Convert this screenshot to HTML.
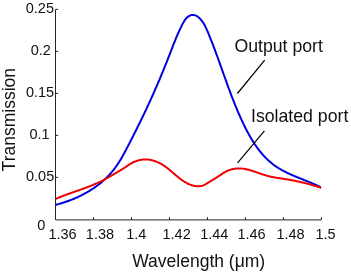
<!DOCTYPE html>
<html><head><meta charset="utf-8"><style>
html,body{margin:0;padding:0;background:#fff;width:351px;height:273px;overflow:hidden}
svg{display:block;will-change:transform}
text{font-family:"Liberation Sans",sans-serif;fill:#111}
.tk{font-size:14.5px}
.lb{font-size:17.7px}
.al{font-size:17.5px}
</style></head><body>
<svg width="351" height="273" viewBox="0 0 351 273">
<g stroke="#242424" stroke-width="1" fill="none" shape-rendering="auto" opacity="1">
<polyline points="321.40,217.20000000000002 321.40,219.9 55.5,219.9 55.5,9.4 58.2,9.4"/>
<line x1="93.49" y1="219.9" x2="93.49" y2="217.20000000000002"/><line x1="131.47" y1="219.9" x2="131.47" y2="217.20000000000002"/><line x1="169.46" y1="219.9" x2="169.46" y2="217.20000000000002"/><line x1="207.44" y1="219.9" x2="207.44" y2="217.20000000000002"/><line x1="245.43" y1="219.9" x2="245.43" y2="217.20000000000002"/><line x1="283.41" y1="219.9" x2="283.41" y2="217.20000000000002"/><line x1="55.5" y1="177.40" x2="58.2" y2="177.40"/><line x1="55.5" y1="135.40" x2="58.2" y2="135.40"/><line x1="55.5" y1="93.40" x2="58.2" y2="93.40"/><line x1="55.5" y1="51.40" x2="58.2" y2="51.40"/>
</g>
<g opacity="1"><path d="M55.50,204.89 L56.24,204.70 L56.99,204.51 L57.74,204.31 L58.48,204.10 L59.23,203.90 L59.97,203.68 L60.72,203.46 L61.46,203.24 L62.21,203.01 L62.95,202.78 L63.69,202.54 L64.44,202.30 L65.18,202.05 L65.92,201.80 L66.66,201.55 L67.40,201.29 L68.14,201.02 L68.88,200.75 L69.62,200.48 L70.35,200.20 L71.09,199.91 L71.82,199.62 L72.55,199.33 L73.28,199.03 L74.01,198.73 L74.74,198.42 L75.46,198.11 L76.19,197.79 L76.91,197.47 L77.63,197.14 L78.35,196.81 L79.06,196.47 L79.78,196.13 L80.49,195.78 L81.20,195.43 L81.91,195.07 L82.61,194.71 L83.31,194.35 L84.01,193.98 L84.71,193.60 L85.41,193.22 L86.10,192.83 L86.79,192.44 L87.47,192.05 L88.15,191.65 L88.83,191.24 L89.51,190.83 L90.18,190.42 L90.85,190.00 L91.52,189.58 L92.18,189.15 L92.84,188.71 L93.50,188.27 L94.15,187.83 L94.80,187.38 L95.45,186.93 L96.09,186.47 L96.72,186.00 L97.36,185.54 L97.99,185.06 L98.61,184.58 L99.23,184.10 L99.85,183.61 L100.46,183.12 L101.07,182.62 L101.67,182.12 L102.27,181.61 L102.86,181.10 L103.45,180.58 L104.04,180.06 L104.62,179.53 L105.19,178.99 L105.76,178.46 L106.32,177.91 L106.88,177.36 L107.43,176.81 L107.98,176.25 L108.53,175.69 L109.06,175.12 L109.59,174.55 L110.12,173.97 L110.64,173.39 L111.16,172.80 L111.66,172.20 L112.17,171.61 L112.66,171.00 L113.15,170.39 L113.64,169.78 L114.12,169.16 L114.59,168.54 L115.06,167.91 L115.52,167.28 L115.98,166.64 L116.43,166.00 L116.88,165.36 L117.32,164.71 L117.76,164.06 L118.19,163.40 L118.62,162.74 L119.04,162.08 L119.46,161.41 L119.88,160.74 L120.29,160.07 L120.70,159.40 L121.10,158.72 L121.50,158.04 L121.90,157.36 L122.30,156.67 L122.69,155.98 L123.08,155.29 L123.46,154.60 L123.85,153.91 L124.23,153.22 L124.60,152.52 L124.98,151.82 L125.35,151.12 L125.73,150.42 L126.10,149.72 L126.46,149.02 L126.83,148.32 L127.20,147.61 L127.56,146.91 L127.92,146.21 L128.28,145.50 L128.65,144.80 L129.01,144.09 L129.37,143.39 L129.72,142.69 L130.08,141.98 L130.44,141.28 L130.80,140.58 L131.16,139.87 L131.51,139.17 L131.87,138.47 L132.23,137.77 L132.58,137.07 L132.94,136.37 L133.29,135.67 L133.65,134.97 L134.00,134.26 L134.36,133.56 L134.71,132.86 L135.06,132.16 L135.42,131.46 L135.77,130.76 L136.12,130.06 L136.47,129.36 L136.82,128.66 L137.17,127.96 L137.52,127.26 L137.87,126.56 L138.22,125.85 L138.57,125.15 L138.92,124.45 L139.26,123.75 L139.61,123.05 L139.95,122.34 L140.30,121.64 L140.65,120.94 L140.99,120.23 L141.33,119.53 L141.68,118.82 L142.02,118.12 L142.36,117.41 L142.70,116.70 L143.04,116.00 L143.39,115.29 L143.73,114.58 L144.06,113.87 L144.40,113.16 L144.74,112.45 L145.08,111.74 L145.42,111.03 L145.75,110.32 L146.09,109.61 L146.42,108.89 L146.76,108.18 L147.09,107.46 L147.42,106.75 L147.76,106.03 L148.09,105.32 L148.42,104.60 L148.75,103.88 L149.08,103.17 L149.41,102.45 L149.74,101.73 L150.07,101.01 L150.39,100.29 L150.72,99.57 L151.05,98.85 L151.37,98.13 L151.70,97.41 L152.02,96.69 L152.35,95.97 L152.67,95.25 L152.99,94.52 L153.31,93.80 L153.63,93.08 L153.95,92.36 L154.27,91.63 L154.59,90.91 L154.91,90.18 L155.23,89.46 L155.54,88.73 L155.86,88.01 L156.17,87.28 L156.49,86.56 L156.80,85.83 L157.12,85.11 L157.43,84.38 L157.74,83.65 L158.05,82.93 L158.36,82.20 L158.67,81.47 L158.98,80.75 L159.29,80.02 L159.60,79.29 L159.90,78.56 L160.21,77.84 L160.51,77.11 L160.82,76.38 L161.12,75.65 L161.43,74.92 L161.73,74.20 L162.03,73.47 L162.33,72.74 L162.63,72.01 L162.93,71.28 L163.23,70.56 L163.53,69.83 L163.82,69.10 L164.12,68.37 L164.41,67.64 L164.71,66.92 L165.00,66.19 L165.30,65.46 L165.59,64.73 L165.88,64.01 L166.17,63.28 L166.46,62.55 L166.75,61.82 L167.04,61.10 L167.33,60.37 L167.61,59.64 L167.90,58.92 L168.18,58.19 L168.47,57.47 L168.75,56.74 L169.04,56.01 L169.32,55.29 L169.60,54.56 L169.88,53.84 L170.16,53.11 L170.44,52.39 L170.72,51.66 L171.00,50.94 L171.27,50.22 L171.55,49.49 L171.83,48.77 L172.11,48.04 L172.39,47.32 L172.67,46.60 L172.95,45.87 L173.24,45.15 L173.52,44.42 L173.81,43.70 L174.09,42.97 L174.38,42.24 L174.67,41.52 L174.97,40.79 L175.26,40.07 L175.56,39.34 L175.86,38.61 L176.16,37.88 L176.46,37.15 L176.77,36.42 L177.08,35.69 L177.40,34.96 L177.72,34.23 L178.04,33.50 L178.36,32.76 L178.69,32.03 L179.03,31.29 L179.37,30.56 L179.71,29.82 L180.05,29.08 L180.41,28.34 L180.76,27.60 L181.12,26.86 L181.49,26.12 L181.86,25.37 L182.24,24.63 L182.63,23.89 L183.02,23.15 L183.42,22.42 L183.84,21.71 L184.27,21.01 L184.71,20.33 L185.17,19.68 L185.65,19.05 L186.15,18.45 L186.67,17.89 L187.21,17.36 L187.78,16.87 L188.37,16.43 L189.00,16.04 L189.65,15.70 L190.32,15.42 L191.00,15.19 L191.70,15.04 L192.40,14.95 L193.10,14.94 L193.80,15.01 L194.49,15.14 L195.17,15.35 L195.84,15.63 L196.51,15.96 L197.16,16.34 L197.79,16.78 L198.42,17.26 L199.03,17.77 L199.62,18.33 L200.19,18.91 L200.74,19.52 L201.28,20.14 L201.79,20.78 L202.28,21.43 L202.75,22.09 L203.20,22.76 L203.62,23.44 L204.04,24.12 L204.43,24.81 L204.81,25.51 L205.18,26.21 L205.53,26.91 L205.88,27.63 L206.21,28.34 L206.54,29.06 L206.85,29.78 L207.17,30.50 L207.48,31.23 L207.79,31.96 L208.09,32.68 L208.39,33.41 L208.70,34.14 L209.00,34.87 L209.30,35.60 L209.60,36.33 L209.89,37.07 L210.19,37.80 L210.48,38.53 L210.77,39.27 L211.07,40.00 L211.36,40.74 L211.65,41.47 L211.93,42.21 L212.22,42.95 L212.51,43.68 L212.79,44.42 L213.08,45.16 L213.36,45.90 L213.64,46.64 L213.92,47.38 L214.20,48.12 L214.48,48.86 L214.76,49.60 L215.03,50.34 L215.31,51.08 L215.59,51.82 L215.86,52.56 L216.13,53.30 L216.41,54.05 L216.68,54.79 L216.95,55.53 L217.22,56.27 L217.49,57.01 L217.76,57.75 L218.03,58.50 L218.30,59.24 L218.57,59.98 L218.83,60.72 L219.10,61.46 L219.37,62.20 L219.63,62.95 L219.90,63.69 L220.16,64.43 L220.43,65.17 L220.69,65.91 L220.96,66.65 L221.22,67.39 L221.48,68.13 L221.75,68.87 L222.01,69.61 L222.27,70.35 L222.53,71.09 L222.80,71.83 L223.06,72.57 L223.32,73.30 L223.58,74.04 L223.85,74.78 L224.11,75.52 L224.37,76.26 L224.64,76.99 L224.90,77.73 L225.16,78.47 L225.43,79.20 L225.69,79.94 L225.96,80.68 L226.22,81.41 L226.49,82.15 L226.75,82.89 L227.02,83.62 L227.28,84.36 L227.55,85.09 L227.82,85.83 L228.09,86.56 L228.36,87.29 L228.62,88.03 L228.90,88.76 L229.17,89.49 L229.44,90.23 L229.71,90.96 L229.98,91.69 L230.26,92.43 L230.53,93.16 L230.81,93.89 L231.09,94.62 L231.36,95.35 L231.64,96.08 L231.92,96.81 L232.20,97.54 L232.48,98.27 L232.77,99.00 L233.05,99.73 L233.34,100.46 L233.63,101.19 L233.91,101.92 L234.20,102.65 L234.49,103.38 L234.79,104.10 L235.08,104.83 L235.37,105.56 L235.67,106.29 L235.97,107.01 L236.27,107.74 L236.57,108.46 L236.87,109.19 L237.18,109.92 L237.48,110.64 L237.79,111.36 L238.10,112.09 L238.41,112.81 L238.73,113.54 L239.04,114.26 L239.36,114.98 L239.68,115.71 L240.00,116.43 L240.32,117.15 L240.65,117.87 L240.97,118.59 L241.30,119.31 L241.63,120.03 L241.97,120.75 L242.30,121.47 L242.64,122.19 L242.98,122.91 L243.32,123.63 L243.67,124.35 L244.01,125.07 L244.36,125.78 L244.71,126.50 L245.07,127.21 L245.43,127.93 L245.79,128.64 L246.15,129.35 L246.51,130.06 L246.88,130.77 L247.25,131.47 L247.63,132.18 L248.01,132.88 L248.39,133.58 L248.77,134.28 L249.16,134.97 L249.55,135.67 L249.94,136.36 L250.34,137.05 L250.74,137.74 L251.14,138.42 L251.55,139.10 L251.96,139.78 L252.37,140.46 L252.79,141.13 L253.22,141.80 L253.64,142.47 L254.07,143.13 L254.51,143.79 L254.94,144.45 L255.39,145.10 L255.83,145.75 L256.28,146.40 L256.74,147.04 L257.20,147.68 L257.66,148.31 L258.13,148.94 L258.60,149.57 L259.07,150.19 L259.56,150.81 L260.04,151.42 L260.53,152.03 L261.03,152.63 L261.53,153.23 L262.03,153.82 L262.54,154.41 L263.06,154.99 L263.58,155.57 L264.10,156.14 L264.63,156.70 L265.17,157.26 L265.71,157.82 L266.25,158.37 L266.80,158.91 L267.36,159.45 L267.92,159.98 L268.49,160.51 L269.06,161.03 L269.64,161.54 L270.23,162.05 L270.82,162.55 L271.41,163.04 L272.02,163.53 L272.62,164.01 L273.24,164.48 L273.86,164.95 L274.48,165.40 L275.12,165.86 L275.75,166.30 L276.40,166.74 L277.05,167.17 L277.71,167.59 L278.37,168.01 L279.03,168.42 L279.71,168.82 L280.38,169.22 L281.06,169.61 L281.75,170.00 L282.44,170.38 L283.14,170.75 L283.84,171.12 L284.54,171.49 L285.24,171.85 L285.95,172.20 L286.67,172.55 L287.38,172.90 L288.10,173.24 L288.83,173.58 L289.55,173.92 L290.28,174.25 L291.01,174.58 L291.74,174.90 L292.47,175.22 L293.21,175.54 L293.95,175.86 L294.68,176.17 L295.42,176.48 L296.16,176.79 L296.91,177.09 L297.65,177.40 L298.39,177.70 L299.13,178.00 L299.88,178.30 L300.62,178.60 L301.36,178.90 L302.10,179.19 L302.85,179.49 L303.59,179.79 L304.33,180.08 L305.06,180.38 L305.80,180.67 L306.54,180.97 L307.27,181.26 L308.00,181.56 L308.73,181.86 L309.46,182.15 L310.19,182.45 L310.91,182.75 L311.63,183.05 L312.35,183.36 L313.06,183.66 L313.77,183.97 L314.48,184.28 L315.19,184.59 L315.89,184.91 L316.58,185.22 L317.27,185.54 L317.96,185.86 L318.64,186.19 L319.32,186.52 L320.00,186.85 L320.66,187.19" stroke="#0000e0" stroke-width="2" fill="none" stroke-linejoin="round"/>
<path d="M55.42,199.03 L55.95,198.80 L56.48,198.57 L57.02,198.34 L57.55,198.12 L58.08,197.89 L58.62,197.67 L59.16,197.45 L59.69,197.24 L60.23,197.02 L60.77,196.80 L61.31,196.59 L61.85,196.38 L62.39,196.17 L62.93,195.96 L63.47,195.75 L64.01,195.55 L64.56,195.34 L65.10,195.14 L65.65,194.93 L66.19,194.73 L66.73,194.53 L67.28,194.33 L67.83,194.13 L68.37,193.93 L68.92,193.74 L69.47,193.54 L70.01,193.34 L70.56,193.15 L71.11,192.95 L71.66,192.76 L72.20,192.57 L72.75,192.37 L73.30,192.18 L73.85,191.99 L74.40,191.79 L74.95,191.60 L75.49,191.41 L76.04,191.21 L76.59,191.02 L77.14,190.83 L77.69,190.64 L78.24,190.44 L78.79,190.25 L79.33,190.06 L79.88,189.86 L80.43,189.67 L80.98,189.47 L81.52,189.28 L82.07,189.08 L82.62,188.88 L83.16,188.69 L83.71,188.49 L84.26,188.29 L84.80,188.09 L85.35,187.89 L85.89,187.69 L86.43,187.48 L86.98,187.28 L87.52,187.07 L88.06,186.87 L88.60,186.66 L89.15,186.45 L89.69,186.24 L90.23,186.03 L90.76,185.81 L91.30,185.60 L91.84,185.38 L92.38,185.16 L92.91,184.94 L93.45,184.72 L93.98,184.50 L94.51,184.27 L95.05,184.04 L95.58,183.81 L96.11,183.58 L96.64,183.35 L97.17,183.11 L97.69,182.87 L98.22,182.63 L98.75,182.39 L99.27,182.14 L99.79,181.89 L100.31,181.64 L100.84,181.39 L101.35,181.13 L101.87,180.87 L102.39,180.61 L102.91,180.35 L103.42,180.08 L103.93,179.81 L104.45,179.54 L104.96,179.27 L105.47,178.99 L105.98,178.71 L106.49,178.43 L106.99,178.15 L107.50,177.87 L108.01,177.59 L108.51,177.30 L109.02,177.01 L109.52,176.72 L110.02,176.43 L110.53,176.14 L111.03,175.85 L111.53,175.56 L112.03,175.26 L112.53,174.97 L113.03,174.68 L113.53,174.38 L114.03,174.08 L114.53,173.79 L115.03,173.49 L115.52,173.19 L116.02,172.90 L116.52,172.60 L117.02,172.30 L117.52,172.01 L118.01,171.71 L118.51,171.42 L119.01,171.12 L119.51,170.83 L120.00,170.53 L120.50,170.24 L121.00,169.95 L121.50,169.65 L121.99,169.36 L122.49,169.06 L122.99,168.76 L123.48,168.46 L123.97,168.15 L124.46,167.84 L124.95,167.52 L125.43,167.19 L125.92,166.86 L126.40,166.53 L126.88,166.19 L127.36,165.86 L127.85,165.52 L128.33,165.19 L128.82,164.86 L129.31,164.54 L129.80,164.22 L130.29,163.91 L130.80,163.61 L131.30,163.32 L131.81,163.04 L132.32,162.77 L132.84,162.50 L133.36,162.25 L133.88,162.01 L134.41,161.77 L134.94,161.55 L135.47,161.34 L136.01,161.13 L136.55,160.94 L137.09,160.76 L137.64,160.59 L138.18,160.43 L138.73,160.28 L139.29,160.15 L139.84,160.02 L140.40,159.91 L140.96,159.81 L141.52,159.72 L142.08,159.64 L142.65,159.57 L143.21,159.52 L143.78,159.48 L144.35,159.45 L144.92,159.44 L145.49,159.43 L146.07,159.45 L146.64,159.47 L147.21,159.51 L147.79,159.55 L148.36,159.61 L148.94,159.69 L149.51,159.77 L150.08,159.87 L150.66,159.97 L151.23,160.09 L151.80,160.22 L152.37,160.36 L152.93,160.51 L153.50,160.67 L154.06,160.84 L154.62,161.02 L155.18,161.22 L155.73,161.42 L156.28,161.62 L156.83,161.84 L157.38,162.07 L157.92,162.31 L158.46,162.55 L158.99,162.80 L159.52,163.06 L160.04,163.33 L160.56,163.61 L161.07,163.89 L161.58,164.18 L162.09,164.48 L162.59,164.78 L163.08,165.09 L163.57,165.41 L164.06,165.73 L164.54,166.06 L165.02,166.40 L165.50,166.73 L165.97,167.08 L166.44,167.42 L166.91,167.78 L167.37,168.13 L167.83,168.49 L168.29,168.85 L168.75,169.22 L169.20,169.59 L169.65,169.96 L170.10,170.33 L170.55,170.71 L171.00,171.08 L171.44,171.46 L171.89,171.84 L172.33,172.22 L172.77,172.60 L173.22,172.98 L173.66,173.37 L174.10,173.75 L174.54,174.13 L174.99,174.51 L175.43,174.89 L175.87,175.26 L176.31,175.64 L176.76,176.02 L177.20,176.39 L177.65,176.76 L178.10,177.12 L178.55,177.49 L179.00,177.85 L179.45,178.21 L179.90,178.56 L180.36,178.91 L180.82,179.25 L181.28,179.60 L181.74,179.93 L182.21,180.26 L182.68,180.59 L183.16,180.91 L183.63,181.22 L184.11,181.53 L184.60,181.83 L185.09,182.12 L185.58,182.41 L186.07,182.69 L186.58,182.96 L187.08,183.23 L187.59,183.48 L188.11,183.73 L188.63,183.97 L189.15,184.20 L189.68,184.42 L190.22,184.63 L190.76,184.83 L191.31,185.02 L191.87,185.20 L192.43,185.37 L192.99,185.53 L193.56,185.68 L194.13,185.81 L194.71,185.92 L195.28,186.02 L195.86,186.11 L196.44,186.17 L197.02,186.22 L197.60,186.25 L198.18,186.26 L198.75,186.25 L199.33,186.22 L199.90,186.16 L200.46,186.09 L201.02,185.99 L201.58,185.86 L202.13,185.71 L202.68,185.53 L203.21,185.33 L203.75,185.10 L204.28,184.86 L204.80,184.60 L205.32,184.33 L205.83,184.04 L206.35,183.75 L206.86,183.46 L207.37,183.16 L207.87,182.86 L208.38,182.56 L208.88,182.26 L209.38,181.96 L209.88,181.66 L210.38,181.36 L210.88,181.06 L211.38,180.76 L211.87,180.46 L212.37,180.15 L212.86,179.85 L213.35,179.54 L213.85,179.24 L214.34,178.93 L214.83,178.62 L215.32,178.31 L215.81,178.00 L216.30,177.69 L216.79,177.38 L217.28,177.06 L217.76,176.75 L218.25,176.43 L218.74,176.11 L219.23,175.79 L219.72,175.47 L220.21,175.15 L220.70,174.83 L221.19,174.50 L221.68,174.18 L222.17,173.85 L222.66,173.53 L223.16,173.21 L223.66,172.90 L224.16,172.59 L224.66,172.30 L225.17,172.01 L225.68,171.72 L226.19,171.46 L226.71,171.20 L227.24,170.95 L227.77,170.72 L228.30,170.50 L228.83,170.29 L229.37,170.09 L229.92,169.90 L230.46,169.73 L231.01,169.56 L231.56,169.41 L232.12,169.27 L232.68,169.14 L233.24,169.02 L233.80,168.91 L234.36,168.82 L234.93,168.73 L235.50,168.66 L236.07,168.59 L236.64,168.54 L237.21,168.50 L237.78,168.47 L238.36,168.45 L238.93,168.44 L239.51,168.45 L240.09,168.46 L240.66,168.48 L241.24,168.52 L241.82,168.56 L242.39,168.62 L242.97,168.68 L243.54,168.76 L244.12,168.85 L244.69,168.94 L245.27,169.04 L245.84,169.16 L246.41,169.28 L246.98,169.40 L247.55,169.54 L248.12,169.68 L248.68,169.82 L249.25,169.97 L249.81,170.13 L250.38,170.29 L250.94,170.46 L251.50,170.63 L252.05,170.80 L252.61,170.98 L253.16,171.16 L253.72,171.34 L254.27,171.52 L254.82,171.71 L255.37,171.90 L255.92,172.09 L256.47,172.28 L257.02,172.47 L257.57,172.66 L258.12,172.85 L258.66,173.05 L259.21,173.24 L259.76,173.43 L260.31,173.62 L260.85,173.81 L261.40,174.00 L261.95,174.18 L262.50,174.36 L263.05,174.55 L263.60,174.72 L264.15,174.90 L264.70,175.07 L265.25,175.24 L265.81,175.40 L266.36,175.56 L266.92,175.72 L267.48,175.87 L268.03,176.01 L268.59,176.15 L269.16,176.29 L269.72,176.42 L270.28,176.55 L270.85,176.67 L271.41,176.79 L271.98,176.91 L272.55,177.03 L273.12,177.14 L273.69,177.24 L274.26,177.35 L274.83,177.45 L275.40,177.55 L275.97,177.65 L276.55,177.75 L277.12,177.84 L277.69,177.93 L278.27,178.02 L278.84,178.11 L279.42,178.20 L279.99,178.29 L280.57,178.38 L281.14,178.47 L281.72,178.55 L282.30,178.64 L282.87,178.73 L283.45,178.82 L284.02,178.90 L284.60,178.99 L285.17,179.08 L285.75,179.17 L286.32,179.27 L286.90,179.36 L287.47,179.45 L288.04,179.55 L288.61,179.65 L289.19,179.75 L289.76,179.85 L290.33,179.95 L290.90,180.05 L291.47,180.16 L292.04,180.26 L292.61,180.37 L293.18,180.48 L293.75,180.59 L294.32,180.70 L294.89,180.81 L295.46,180.93 L296.02,181.05 L296.59,181.16 L297.16,181.28 L297.72,181.40 L298.29,181.53 L298.86,181.65 L299.42,181.77 L299.99,181.90 L300.55,182.03 L301.12,182.16 L301.68,182.29 L302.24,182.42 L302.81,182.56 L303.37,182.69 L303.93,182.83 L304.49,182.97 L305.06,183.11 L305.62,183.25 L306.18,183.40 L306.74,183.54 L307.30,183.69 L307.86,183.84 L308.42,183.99 L308.98,184.14 L309.54,184.30 L310.10,184.45 L310.66,184.61 L311.21,184.77 L311.77,184.93 L312.33,185.09 L312.89,185.25 L313.44,185.42 L314.00,185.59 L314.55,185.76 L315.11,185.93 L315.67,186.10 L316.22,186.27 L316.78,186.45 L317.33,186.63 L317.88,186.80 L318.44,186.99 L318.99,187.17 L319.54,187.35 L320.10,187.54 L320.65,187.73 L321.20,187.92" stroke="#f00000" stroke-width="2" fill="none" stroke-linejoin="round"/>
<g stroke="#000" stroke-width="1.2">
<line x1="237.4" y1="93.5" x2="264.7" y2="60.1"/>
<line x1="237.6" y1="162.9" x2="264.4" y2="130.8"/>
</g></g>
<text x="62.50" y="238.55" text-anchor="middle" class="tk">1.36</text><text x="99.95" y="238.55" text-anchor="middle" class="tk">1.38</text><text x="136.25" y="238.55" text-anchor="middle" class="tk">1.4</text><text x="176.60" y="238.55" text-anchor="middle" class="tk">1.42</text><text x="214.25" y="238.55" text-anchor="middle" class="tk">1.44</text><text x="251.50" y="238.55" text-anchor="middle" class="tk">1.46</text><text x="290.55" y="238.55" text-anchor="middle" class="tk">1.48</text><text x="325.55" y="238.55" text-anchor="middle" class="tk">1.5</text><text x="41.30" y="229.65" text-anchor="middle" class="tk">0</text><text x="40.15" y="180.75" text-anchor="middle" class="tk">0.05</text><text x="39.60" y="138.75" text-anchor="middle" class="tk">0.1</text><text x="40.05" y="96.75" text-anchor="middle" class="tk">0.15</text><text x="40.80" y="54.80" text-anchor="middle" class="tk">0.2</text><text x="39.90" y="12.80" text-anchor="middle" class="tk">0.25</text>
<text x="234.4" y="51.5" class="lb">Output port</text>
<text x="251.0" y="121.6" class="lb">Isolated port</text>
<text x="198.7" y="267.4" text-anchor="middle" class="al">Wavelength (μm)</text>
<text transform="translate(15.0,119.7) rotate(-90)" text-anchor="middle" class="al">Transmission</text>
</svg>
</body></html>
